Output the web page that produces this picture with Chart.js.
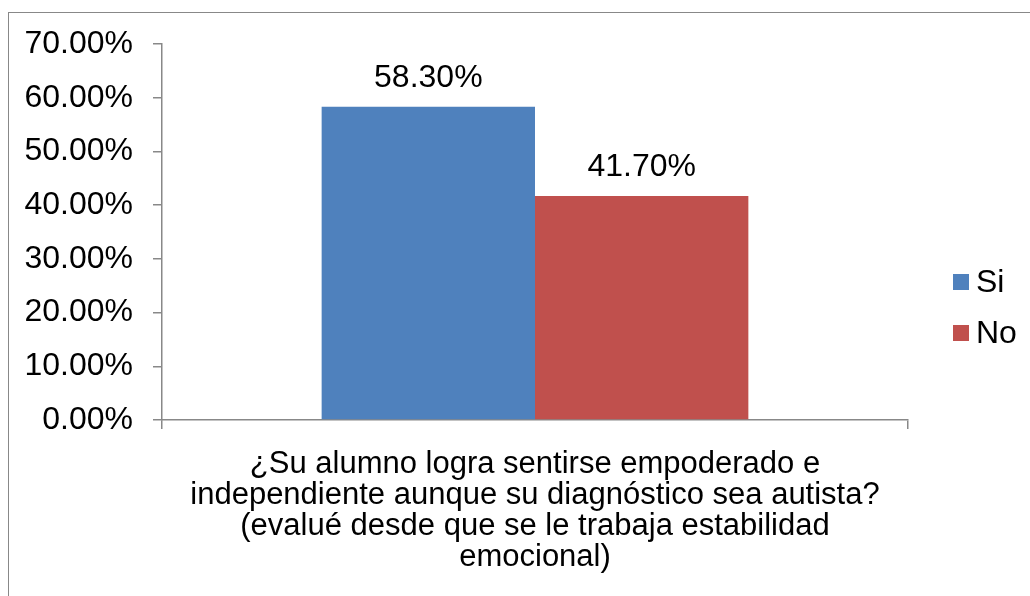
<!DOCTYPE html>
<html>
<head>
<meta charset="utf-8">
<script src="https://cdn.jsdelivr.net/npm/chart.js@4/dist/chart.umd.min.js"></script>
<style>
html,body{margin:0;padding:0;background:#fff;overflow:hidden;}
#frame{position:absolute;left:8px;top:12px;width:1040px;height:600px;border:1px solid #888;box-sizing:border-box;}
#wrap{position:absolute;left:1px;top:1px;width:1021px;height:583px;}
</style>
</head>
<body>
<div id="frame"><div id="wrap"><canvas id="c"></canvas></div></div>
<script>
const categories = [["¿Su alumno logra sentirse empoderado e","independiente aunque su diagnóstico sea autista?","(evalué desde que se le trabaja estabilidad","emocional)"]];
const seriesNames = ["Si", "No"];
const siValues = [58.3];
const noValues = [41.7];
const yTickMin = 0, yTickMax = 70, yTickStep = 10;
const colors = ["#4F81BD", "#C0504D"];
const FONT = "'Liberation Sans', Arial, sans-serif";

const dataLabels = {
  id: 'dataLabels',
  afterDatasetsDraw(chart) {
    const ctx = chart.ctx;
    ctx.save();
    ctx.font = "32px " + FONT;
    ctx.fillStyle = "#000";
    ctx.textAlign = "center";
    ctx.textBaseline = "middle";
    chart.data.datasets.forEach((ds, i) => {
      chart.getDatasetMeta(i).data.forEach((el, j) => {
        ctx.fillText(ds.data[j].toFixed(2) + "%", el.x, el.y - 29);
      });
    });
    ctx.restore();
  }
};

const sideLegend = {
  id: 'sideLegend',
  afterDraw(chart) {
    const ctx = chart.ctx;
    ctx.save();
    ctx.font = "32px " + FONT;
    ctx.textBaseline = "middle";
    ctx.textAlign = "left";
    const x0 = chart.chartArea.right + 45;
    const yStart = 268;
    chart.data.datasets.forEach((ds, i) => {
      const y = yStart + i * 51;
      ctx.fillStyle = ds.backgroundColor;
      ctx.fillRect(x0, y - 8, 16, 16);
      ctx.fillStyle = "#000";
      ctx.fillText(ds.label, x0 + 23, y + 1);
    });
    ctx.restore();
  }
};

new Chart(document.getElementById('c'), {
  type: 'bar',
  data: {
    labels: categories,
    datasets: [
      { label: seriesNames[0], data: siValues, backgroundColor: colors[0] },
      { label: seriesNames[1], data: noValues, backgroundColor: colors[1] }
    ]
  },
  options: {
    responsive: true,
    maintainAspectRatio: false,
    animation: false,
    layout: { padding: { left: 0, right: 123, top: 0, bottom: 0 } },
    plugins: { legend: { display: false }, tooltip: { enabled: false } },
    datasets: { bar: { categoryPercentage: 0.572, barPercentage: 1.0 } },
    scales: {
      x: {
        offset: true,
        afterFit: s => { s.height = 177; },
        grid: { offset: true, drawOnChartArea: false, tickLength: 9, color: '#888', lineWidth: 1.5 },
        border: { color: '#888', width: 1.5 },
        ticks: { color: '#000', font: { family: FONT, size: 31, lineHeight: 1.0 }, padding: 20, maxRotation: 0 }
      },
      y: {
        min: yTickMin, max: yTickMax,
        afterFit: s => { s.width = 152; s.paddingTop = 30; s.paddingBottom = 0; },
        grid: { drawOnChartArea: false, tickLength: 9, color: '#888', lineWidth: 1.5 },
        border: { color: '#888', width: 1.5 },
        ticks: { stepSize: yTickStep, color: '#000', font: { family: FONT, size: 32 }, padding: 20,
          callback: v => v.toFixed(2) + '%' }
      }
    }
  },
  plugins: [dataLabels, sideLegend]
});
</script>
</body>
</html>
